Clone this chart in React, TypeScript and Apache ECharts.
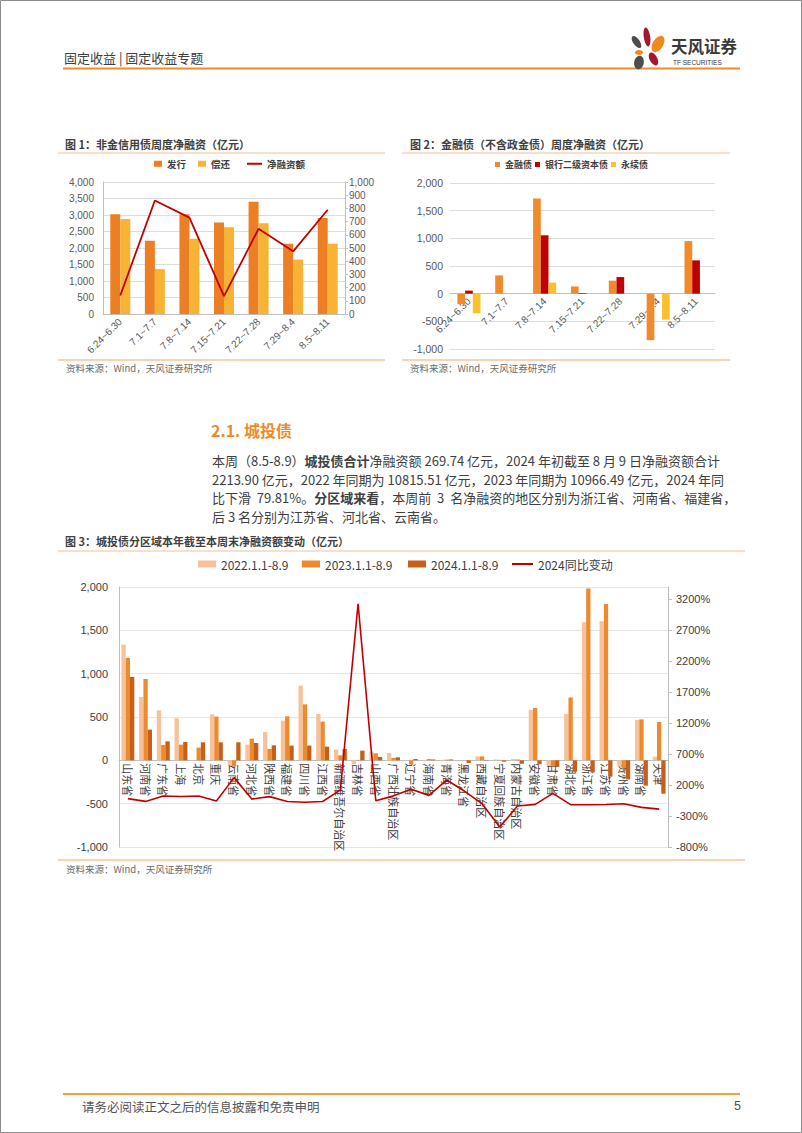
import React, { useEffect, useRef } from 'react';
import * as echarts from 'echarts';

// ---------- Chart 1: 非金信用债周度净融资 ----------
const weeks = ['6.24~6.30', '7.1~7.7', '7.8~7.14', '7.15~7.21', '7.22~7.28', '7.29~8.4', '8.5~8.11'];
const issue = [3020, 2220, 3020, 2770, 3400, 2130, 2910];
const repay = [2880, 1360, 2280, 2630, 2750, 1650, 2130];
const netFin = [140, 860, 730, 135, 645, 475, 790];

// ---------- Chart 2: 金融债周度净融资 ----------
const finBond = [-190, 330, 1720, 130, 235, -840, 950];
const tier2 = [55, 0, 1055, 12, 300, 0, 602];
const perp = [-355, 0, 200, 0, 12, -470, 0];

// ---------- Chart 3: 城投债分区域 ----------
const regions = ['山东省', '河南省', '广东省', '上海', '北京', '重庆', '云南省', '河北省', '陕西省', '福建省', '四川省', '江西省', '新疆维吾尔自治区', '吉林省', '山西省', '广西壮族自治区', '辽宁省', '海南省', '青海省', '黑龙江省', '西藏自治区', '宁夏回族自治区', '内蒙古自治区', '安徽省', '甘肃省', '湖北省', '浙江省', '江苏省', '贵州省', '湖南省', '天津'];
const y2022 = [1335, 731, 577, 485, 5, 531, -60, 181, 327, 458, 862, 535, 124, -45, 100, 85, 0, 5, 5, 0, 45, 10, 15, 582, -55, 537, 1593, 1605, -70, 467, 42];
const y2023 = [1182, 939, 178, 181, 147, 504, -70, 250, 131, 508, 646, 447, 58, 5, 81, 28, -50, 15, 8, 0, 45, 5, 10, 604, -70, 725, 1982, 1805, -90, 473, 442];
const y2024 = [962, 354, 219, 212, 208, 208, 208, 200, 173, 170, 170, 158, 131, 112, 39, 35, 16, 10, 10, -30, 5, -15, -40, -45, -75, -130, -140, -188, -220, -292, -385];
const yoy2024 = [-20, -65, 22, 14, 22, -60, 318, -28, 12, -67, -78, -67, 120, 3120, -55, 24, 129, 32, 279, 102, -102, -479, -140, -113, 65, -118, -118, -116, -102, -161, -189];
const pctTicks = [-800, -300, 200, 700, 1200, 1700, 2200, 2700, 3200];

const CJK = "'Noto Sans CJK SC', 'Noto Sans', sans-serif";
const NUM = "'Liberation Sans', Arial, 'Noto Sans CJK SC', sans-serif";
const TXT = '#404040';
const AX = '#595959';
const GRIDC = '#DDDDDD';
const LINEC = '#BFBFBF';
const ORANGE_LINE = '#F3A96A';

const thou = (v: number) => v.toLocaleString('en-US');

// grid geometry
const G2 = { left: 450, top: 183, width: 265, height: 166, min: -1000, max: 2000 };
const G3 = { left: 119, top: 587, width: 549, height: 260, min: -1000, max: 2000 };
const zeroOffset = (g: any) => -(g.height * (0 - g.min)) / (g.max - g.min);

function txt(x: number, y: number, text: string, o: any = {}) {
  return {
    type: 'text', x, y, silent: true,
    style: {
      text, fill: o.fill || TXT, fontSize: o.fontSize || 12, fontFamily: o.fontFamily || CJK,
      fontWeight: o.fontWeight || 'normal', textAlign: o.align || 'left', align: o.align || 'left',
      textVerticalAlign: 'middle', verticalAlign: 'middle', rich: o.rich,
    },
  };
}
function hline(x1: number, x2: number, y: number, stroke: string, w = 1) {
  return { type: 'line', silent: true, shape: { x1, y1: y, x2, y2: y }, style: { stroke, lineWidth: w } };
}
function petal(cx: number, cy: number, rx: number, ry: number, rot: number, fill: string) {
  return { type: 'ellipse', x: cx, y: cy, rotation: rot, silent: true, shape: { cx: 0, cy: 0, rx, ry }, style: { fill } };
}

const paraRich = { b: { fontWeight: 'bold', fontSize: 13, fontFamily: CJK, fill: TXT } };

const graphics: any[] = [
  { type: 'rect', silent: true, shape: { x: 0.5, y: 0.5, width: 801, height: 1132 }, style: { fill: 'none', stroke: '#8c8c8c', lineWidth: 1 } },
  txt(64, 57, '固定收益 | 固定收益专题', { fontSize: 13 }),
  hline(63, 740, 68.5, '#EE8B2B', 2),
  petal(647, 37, 3.2, 9.5, 0.15, '#A3182F'),
  petal(658, 44, 5.2, 9, -0.55, '#F08A1D'),
  petal(636.5, 42, 3.3, 7, 0.6, '#4D4D4D'),
  petal(639, 52.5, 4, 2.4, 0, '#F08A1D'),
  petal(653.5, 59, 3.8, 7, 0.5, '#A3182F'),
  petal(639, 62.5, 4.8, 6.8, -0.2, '#4D4D4D'),
  txt(671, 46, '天风证券', { fontSize: 16.5, fontWeight: 'bold', fill: '#3a3a3a' }),
  txt(673, 62.5, 'TF SECURITIES', { fontSize: 6.5, fill: '#3a3a3a', fontFamily: NUM }),

  txt(65, 144, '图 1：非金信用债周度净融资（亿元）', { fontSize: 11, fontWeight: 'bold' }),
  hline(58, 385, 153, '#F5BE92'),
  txt(410, 144, '图 2：金融债（不含政金债）周度净融资（亿元）', { fontSize: 11, fontWeight: 'bold' }),
  hline(402, 730, 153, '#F5BE92'),
  hline(58, 385, 360, ORANGE_LINE),
  txt(66, 368, '资料来源：Wind，天风证券研究所', { fontSize: 9.5, fill: '#6b6b6b' }),
  hline(402, 730, 360, ORANGE_LINE),
  txt(410, 368, '资料来源：Wind，天风证券研究所', { fontSize: 9.5, fill: '#6b6b6b' }),

  txt(211, 430, '2.1. 城投债', { fontSize: 16, fontWeight: 'bold', fill: '#F08A24' }),
  txt(212, 460, '本周（8.5-8.9）{b|城投债合计}净融资额 269.74 亿元，2024 年初截至 8 月 9 日净融资额合计', { fontSize: 13, rich: paraRich }),
  txt(212, 479, '2213.90 亿元，2022 年同期为 10815.51 亿元，2023 年同期为 10966.49 亿元，2024 年同', { fontSize: 13 }),
  txt(212, 497.5, '比下滑  79.81%。{b|分区域来看}，本周前  3  名净融资的地区分别为浙江省、河南省、福建省，', { fontSize: 13, rich: paraRich }),
  txt(212, 516, '后 3 名分别为江苏省、河北省、云南省。', { fontSize: 13 }),

  txt(65, 541, '图 3：城投债分区域本年截至本周末净融资额变动（亿元）', { fontSize: 11, fontWeight: 'bold' }),
  hline(58, 745, 551, '#F5BE92'),
  hline(58, 745, 860, ORANGE_LINE),
  txt(66, 869, '资料来源：Wind，天风证券研究所', { fontSize: 9.5, fill: '#6b6b6b' }),

  hline(63, 740, 1094, '#EEA23A', 2),
  txt(82, 1106, '请务必阅读正文之后的信息披露和免责申明', { fontSize: 12.5, fill: '#555555' }),
  txt(741, 1106, '5', { fontSize: 12.5, fill: '#555555', align: 'right', fontFamily: NUM }),
];

function lg(name: string, left: number, top: number, o: any = {}) {
  return {
    show: true, left, top, padding: 0, itemGap: 0, orient: 'horizontal',
    itemWidth: o.w || 8, itemHeight: o.h || 6, symbolKeepAspect: true,
    selectedMode: false,
    textStyle: { fontSize: o.fs || 9.5, color: TXT, fontFamily: CJK, fontWeight: o.fw || 'bold' },
    data: [{ name, icon: o.icon || 'rect' }],
  };
}

const catLabel = { fontSize: 10, color: AX, fontFamily: NUM, rotate: 45, interval: 0, margin: 6, hideOverlap: false };

const option: any = {
  animation: false,
  backgroundColor: '#ffffff',
  textStyle: { fontFamily: NUM },
  graphic: { elements: graphics },
  legend: [
    lg('发行', 154, 159),
    lg('偿还', 198, 159),
    lg('净融资额', 247, 159, { w: 15, icon: 'path://M0,0h15v2h-15z' }),
    lg('金融债', 495, 160, { w: 5, h: 5, fs: 9, icon: 'rect' }),
    lg('银行二级资本债', 535, 160, { w: 5, h: 5, fs: 9, icon: 'rect' }),
    lg('永续债', 611, 160, { w: 5, h: 5, fs: 9, icon: 'rect' }),
    lg('2022.1.1-8.9', 198, 558, { w: 18, h: 7, fs: 12, fw: 'normal' }),
    lg('2023.1.1-8.9', 302, 558, { w: 18, h: 7, fs: 12, fw: 'normal' }),
    lg('2024.1.1-8.9', 408, 558, { w: 18, h: 7, fs: 12, fw: 'normal' }),
    lg('2024同比变动', 512, 558, { w: 21, h: 7, fs: 12, fw: 'normal', icon: 'path://M0,0h21v2h-21z' }),
  ],
  grid: [
    { left: 103, top: 182, width: 242, height: 132, containLabel: false },
    { left: G2.left, top: G2.top, width: G2.width, height: G2.height, containLabel: false },
    { left: G3.left, top: G3.top, width: G3.width, height: G3.height, containLabel: false },
  ],
  xAxis: [
    {
      type: 'category', gridIndex: 0, data: weeks,
      axisLine: { lineStyle: { color: LINEC } }, axisTick: { show: false },
      axisLabel: catLabel,
    },
    {
      type: 'category', gridIndex: 1, data: weeks, offset: zeroOffset(G2),
      axisLine: { onZero: false, lineStyle: { color: LINEC } }, axisTick: { show: false },
      axisLabel: catLabel,
    },
    {
      type: 'category', gridIndex: 2, data: regions, offset: zeroOffset(G3),
      axisLine: { onZero: false, lineStyle: { color: LINEC } }, axisTick: { show: false },
      axisLabel: { fontSize: 11, color: TXT, fontFamily: CJK, rotate: -90, interval: 0, margin: 3, hideOverlap: false },
    },
  ],
  yAxis: [
    {
      type: 'value', gridIndex: 0, min: 0, max: 4000, interval: 500,
      axisLine: { show: true, lineStyle: { color: LINEC } }, axisTick: { show: false },
      splitLine: { lineStyle: { color: GRIDC } },
      axisLabel: { fontSize: 10, color: AX, margin: 9, formatter: thou },
    },
    {
      type: 'value', gridIndex: 0, position: 'right', min: 0, max: 1000, interval: 100,
      axisLine: { show: true, lineStyle: { color: LINEC } }, axisTick: { show: true, length: 3, lineStyle: { color: LINEC } },
      splitLine: { show: false },
      axisLabel: { fontSize: 10, color: AX, margin: 4, formatter: thou },
    },
    {
      type: 'value', gridIndex: 1, min: G2.min, max: G2.max, interval: 500,
      axisLine: { show: false }, axisTick: { show: false },
      splitLine: { lineStyle: { color: GRIDC } },
      axisLabel: { fontSize: 10.5, color: AX, margin: 7, formatter: thou },
    },
    {
      type: 'value', gridIndex: 2, min: G3.min, max: G3.max, interval: 500,
      axisLine: { show: true, lineStyle: { color: LINEC } }, axisTick: { show: false },
      splitLine: { lineStyle: { color: '#E6E6E6' } },
      axisLabel: { fontSize: 11, color: TXT, margin: 11, formatter: thou },
    },
    {
      type: 'value', gridIndex: 2, position: 'right', min: -800, max: 3390,
      axisLine: { show: true, lineStyle: { color: LINEC } },
      axisTick: { show: true, length: 4, lineStyle: { color: LINEC }, customValues: pctTicks },
      splitLine: { show: false },
      axisLabel: { fontSize: 11, color: TXT, margin: 8, customValues: pctTicks, formatter: (v: number) => v + '%' },
    },
  ],
  series: [
    { name: '发行', type: 'bar', xAxisIndex: 0, yAxisIndex: 0, data: issue, barWidth: 10, barGap: '0%', itemStyle: { color: '#EC7F24' } },
    { name: '偿还', type: 'bar', xAxisIndex: 0, yAxisIndex: 0, data: repay, barWidth: 10, barGap: '0%', itemStyle: { color: '#F8B334' } },
    { name: '净融资额', type: 'line', xAxisIndex: 0, yAxisIndex: 1, data: netFin, symbol: 'none', z: 5, lineStyle: { color: '#C00000', width: 1.8 }, itemStyle: { color: '#C00000' } },

    { name: '金融债', type: 'bar', xAxisIndex: 1, yAxisIndex: 2, data: finBond, barWidth: 7.7, barGap: '0%', itemStyle: { color: '#F08A2B' } },
    { name: '银行二级资本债', type: 'bar', xAxisIndex: 1, yAxisIndex: 2, data: tier2, barWidth: 7.7, barGap: '0%', itemStyle: { color: '#C00000' } },
    { name: '永续债', type: 'bar', xAxisIndex: 1, yAxisIndex: 2, data: perp, barWidth: 7.7, barGap: '0%', itemStyle: { color: '#FBC02D' } },

    { name: '2022.1.1-8.9', type: 'bar', xAxisIndex: 2, yAxisIndex: 3, data: y2022, barWidth: 4.3, barGap: '0%', itemStyle: { color: '#F7C199' } },
    { name: '2023.1.1-8.9', type: 'bar', xAxisIndex: 2, yAxisIndex: 3, data: y2023, barWidth: 4.3, barGap: '0%', itemStyle: { color: '#EE8A2E' } },
    { name: '2024.1.1-8.9', type: 'bar', xAxisIndex: 2, yAxisIndex: 3, data: y2024, barWidth: 4.3, barGap: '0%', itemStyle: { color: '#C65F17' } },
    { name: '2024同比变动', type: 'line', xAxisIndex: 2, yAxisIndex: 4, data: yoy2024, symbol: 'none', z: 5, lineStyle: { color: '#C00000', width: 1.6 }, itemStyle: { color: '#C00000' } },
  ],
};

export default function App() {
  const ref = useRef<HTMLDivElement>(null);
  useEffect(() => {
    const chart = echarts.init(ref.current as HTMLDivElement, null, { renderer: 'svg', width: 802, height: 1133 });
    chart.setOption(option);
    return () => chart.dispose();
  }, []);
  return (
    <div
      ref={ref}
      style={{ position: 'absolute', left: 0, top: 0, width: 802, height: 1133, background: '#ffffff' }}
    />
  );
}
